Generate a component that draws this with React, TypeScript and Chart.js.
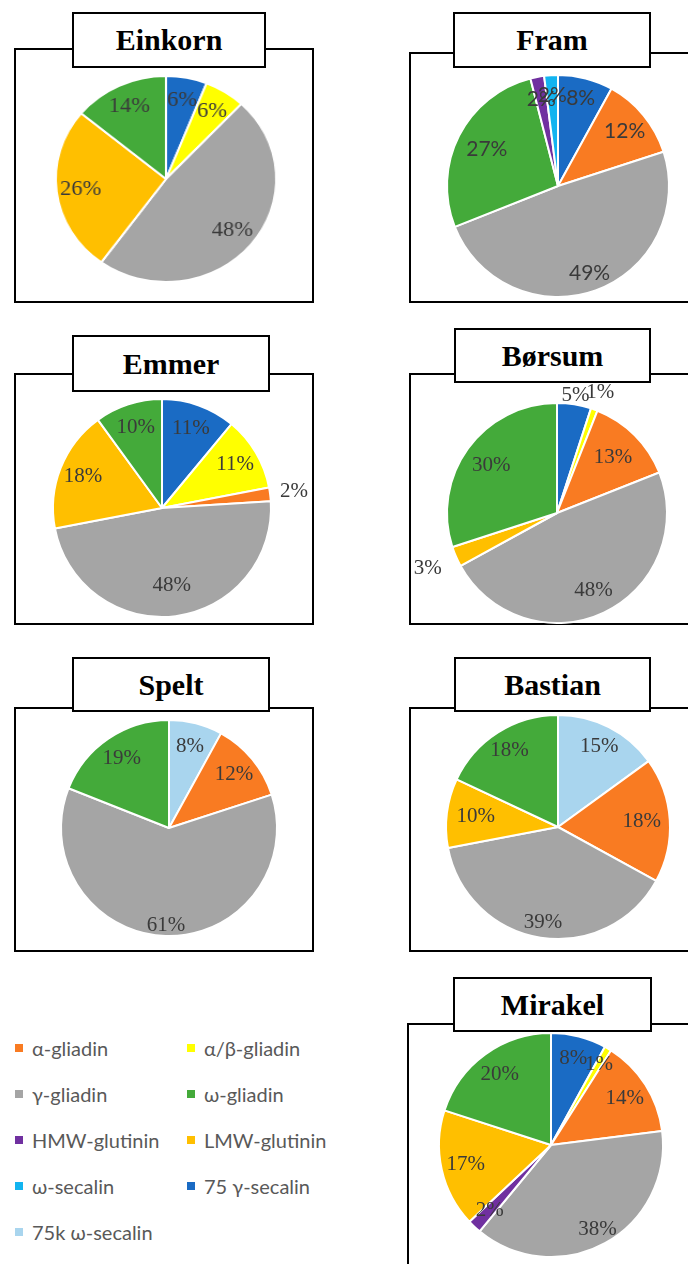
import React, { useEffect, useRef } from "react";
import { Chart, registerables } from "chart.js";

Chart.register(...registerables);

// ---------- data ----------
const categories = [
  "α-gliadin",
  "α/β-gliadin",
  "γ-gliadin",
  "ω-gliadin",
  "HMW-glutinin",
  "LMW-glutinin",
  "ω-secalin",
  "75 γ-secalin",
  "75k ω-secalin",
];

const einkornLabels = ["75 γ-secalin", "α/β-gliadin", "γ-gliadin", "LMW-glutinin", "ω-gliadin"];
const einkornValues = [6, 6, 48, 26, 14];

const framLabels = ["75 γ-secalin", "α-gliadin", "γ-gliadin", "ω-gliadin", "HMW-glutinin", "ω-secalin"];
const framValues = [8, 12, 49, 27, 2, 2];

const emmerLabels = ["75 γ-secalin", "α/β-gliadin", "α-gliadin", "γ-gliadin", "LMW-glutinin", "ω-gliadin"];
const emmerValues = [11, 11, 2, 48, 18, 10];

const borsumLabels = ["75 γ-secalin", "α/β-gliadin", "α-gliadin", "γ-gliadin", "LMW-glutinin", "ω-gliadin"];
const borsumValues = [5, 1, 13, 48, 3, 30];

const speltLabels = ["75k ω-secalin", "α-gliadin", "γ-gliadin", "ω-gliadin"];
const speltValues = [8, 12, 61, 19];

const bastianLabels = ["75k ω-secalin", "α-gliadin", "γ-gliadin", "LMW-glutinin", "ω-gliadin"];
const bastianValues = [15, 18, 39, 10, 18];

const mirakelLabels = ["75 γ-secalin", "α/β-gliadin", "α-gliadin", "γ-gliadin", "HMW-glutinin", "LMW-glutinin", "ω-gliadin"];
const mirakelValues = [8, 1, 14, 38, 2, 17, 20];

// ---------- styles ----------
const colorOf: Record<string, string> = {
  "α-gliadin": "#F97B22",
  "α/β-gliadin": "#FFFF00",
  "γ-gliadin": "#A5A5A5",
  "ω-gliadin": "#44AA3A",
  "HMW-glutinin": "#7030A0",
  "LMW-glutinin": "#FFBF00",
  "ω-secalin": "#12B4F0",
  "75 γ-secalin": "#1A6BC4",
  "75k ω-secalin": "#A9D5EE",
};

const SERIF = "'Liberation Serif', 'Times New Roman', serif";
const SANS = "Lato, 'Liberation Sans', sans-serif";

type PanelSpec = {
  title: string;
  labels: string[];
  values: number[];
  box: [number, number, number, number];
  titleBox: [number, number, number, number];
  cx: number;
  cy: number;
  r: number;
  scaleX?: number;
  font: string;
  labelRadius?: Record<number, number>;
};

const panels: PanelSpec[] = [
  {
    title: "Einkorn", labels: einkornLabels, values: einkornValues,
    box: [14, 48, 300, 255], titleBox: [72, 12, 194, 56],
    cx: 166, cy: 179, r: 103, scaleX: 1.07, font: SERIF,
  },
  {
    title: "Fram", labels: framLabels, values: framValues,
    box: [409, 52, 300, 251], titleBox: [453, 12, 198, 56],
    cx: 558, cy: 186, r: 111, font: SANS,
    labelRadius: { 0: 0.82, 2: 0.84, 3: 0.72, 4: 0.8, 5: 0.82 },
  },
  {
    title: "Emmer", labels: emmerLabels, values: emmerValues,
    box: [14, 373, 300, 252], titleBox: [72, 335, 198, 57],
    cx: 162, cy: 508, r: 109, font: SERIF,
    labelRadius: { 2: 1.22, 3: 0.72 },
  },
  {
    title: "Børsum", labels: borsumLabels, values: borsumValues,
    box: [409, 373, 300, 252], titleBox: [454, 328, 197, 55],
    cx: 557, cy: 513, r: 110, font: SERIF,
    labelRadius: { 0: 1.08, 1: 1.16, 2: 0.72, 4: 1.28, 5: 0.74 },
  },
  {
    title: "Spelt", labels: speltLabels, values: speltValues,
    box: [14, 707, 300, 245], titleBox: [72, 657, 198, 55],
    cx: 169, cy: 828, r: 108, font: SERIF,
    labelRadius: { 2: 0.9 },
  },
  {
    title: "Bastian", labels: bastianLabels, values: bastianValues,
    box: [409, 707, 300, 245], titleBox: [454, 657, 197, 55],
    cx: 558, cy: 827, r: 112, font: SERIF,
    labelRadius: { 0: 0.81, 1: 0.75, 2: 0.86, 3: 0.74, 4: 0.81 },
  },
  {
    title: "Mirakel", labels: mirakelLabels, values: mirakelValues,
    box: [407, 1023, 300, 260], titleBox: [453, 977, 199, 55],
    cx: 551, cy: 1145, r: 112, font: SERIF,
    labelRadius: { 0: 0.8, 1: 0.84, 3: 0.86, 4: 0.8 },
  },
];

const sliceLabelPlugin = {
  id: "sliceLabels",
  afterDatasetsDraw(chart: any, _args: any, opts: any) {
    const ctx = chart.ctx;
    const meta = chart.getDatasetMeta(0);
    const values = chart.data.datasets[0].data as number[];
    ctx.save();
    ctx.font = opts.font;
    ctx.fillStyle = opts.color;
    ctx.textAlign = "center";
    ctx.textBaseline = "middle";
    meta.data.forEach((arc: any, i: number) => {
      const { x, y, startAngle, endAngle, outerRadius } = arc.getProps(
        ["x", "y", "startAngle", "endAngle", "outerRadius"],
        true
      );
      const mid = (startAngle + endAngle) / 2;
      const f = (opts.radii && opts.radii[i]) || opts.radius;
      ctx.fillText(
        values[i] + "%",
        x + Math.cos(mid) * outerRadius * f,
        y + Math.sin(mid) * outerRadius * f
      );
    });
    ctx.restore();
  },
};

const CANVAS = 300;

function PiePanel({ spec }: { spec: PanelSpec }) {
  const ref = useRef<HTMLCanvasElement>(null);
  useEffect(() => {
    if (!ref.current) return;
    const pad = (CANVAS - 2 - 2 * spec.r) / 2;
    const chart = new Chart(ref.current, {
      type: "pie",
      data: {
        labels: spec.labels,
        datasets: [
          {
            data: spec.values,
            backgroundColor: spec.labels.map((l) => colorOf[l]),
            borderColor: "#FFFFFF",
            borderWidth: 2,
          },
        ],
      },
      options: {
        responsive: false,
        animation: false,
        layout: { padding: pad },
        plugins: {
          legend: { display: false },
          tooltip: { enabled: false },
          title: { display: false },
          sliceLabels: {
            font: `21px ${spec.font}`,
            color: "#3A3A3A",
            radius: 0.78,
            radii: spec.labelRadius || {},
          },
        } as any,
      },
      plugins: [sliceLabelPlugin],
    });
    return () => chart.destroy();
  }, [spec]);

  const [bl, bt, bw, bh] = spec.box;
  const [tl, tt, tw, th] = spec.titleBox;
  return (
    <>
      <div
        style={{
          position: "absolute",
          left: bl,
          top: bt,
          width: bw,
          height: bh,
          border: "2px solid #000",
          boxSizing: "border-box",
        }}
      />
      <div
        style={{
          position: "absolute",
          left: spec.cx - CANVAS / 2,
          top: spec.cy - CANVAS / 2,
          width: CANVAS,
          height: CANVAS,
          transform: spec.scaleX ? `scaleX(${spec.scaleX})` : undefined,
          transformOrigin: "50% 50%",
        }}
      >
        <canvas ref={ref} width={CANVAS} height={CANVAS} style={{ display: "block" }} />
      </div>
      <div
        style={{
          position: "absolute",
          left: tl,
          top: tt,
          width: tw,
          height: th,
          border: "2px solid #000",
          boxSizing: "border-box",
          background: "#fff",
          display: "flex",
          alignItems: "center",
          justifyContent: "center",
          fontFamily: SERIF,
          fontWeight: "bold",
          fontSize: 30,
          color: "#000",
          zIndex: 2,
        }}
      >
        {spec.title}
      </div>
    </>
  );
}

function Legend() {
  return (
    <>
      {categories.map((c, i) => {
        const col = i % 2;
        const row = Math.floor(i / 2);
        const x = col === 0 ? 15 : 187;
        const y = 1048 + row * 46;
        return (
          <div
            key={c}
            style={{
              position: "absolute",
              left: x,
              top: y - 12,
              height: 24,
              display: "flex",
              alignItems: "center",
              fontFamily: SANS,
              fontSize: 20,
              color: "#595959",
              whiteSpace: "nowrap",
            }}
          >
            <span
              style={{
                display: "inline-block",
                width: 8,
                height: 8,
                background: colorOf[c],
                marginRight: 9,
              }}
            />
            {c}
          </div>
        );
      })}
    </>
  );
}

export default function App() {
  return (
    <div
      style={{
        position: "fixed",
        left: 0,
        top: 0,
        width: 688,
        height: 1264,
        overflow: "hidden",
        background: "#fff",
      }}
    >
      {panels.map((p) => (
        <PiePanel key={p.title} spec={p} />
      ))}
      <Legend />
    </div>
  );
}
